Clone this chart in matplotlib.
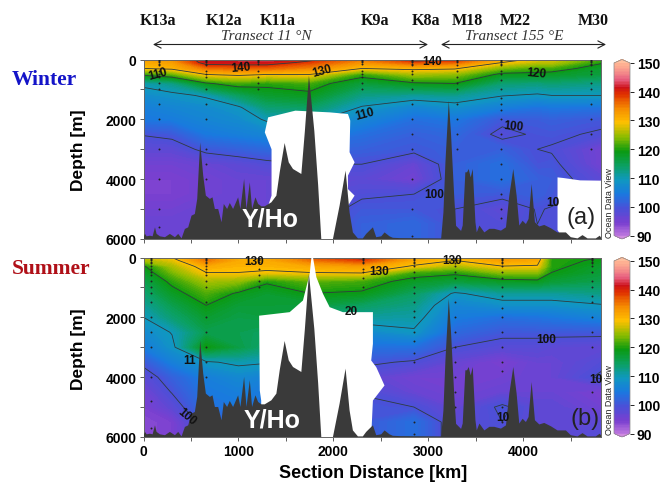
import numpy as np
import matplotlib
matplotlib.use("Agg")
import matplotlib.pyplot as plt
from matplotlib.colors import LinearSegmentedColormap
from matplotlib.patches import FancyArrowPatch

plt.rcParams["font.family"] = ["Liberation Sans", "DejaVu Sans"]

W, H = 662, 485

# grid of the section
km = [0, 300, 660, 1000, 1300, 1750, 2300, 2850, 3280, 3780, 4150, 4300, 4820]
depth = [0, 100, 300, 500, 800, 1200, 1600, 2000, 2500, 3000, 3500, 4000, 4500, 5000, 5500, 6000]

# winter values, one list per km column
w0 = [133, 132, 130, 121, 111, 108, 106, 105, 100.2, 98, 96, 95, 95, 96, 97, 97]
w1 = [134, 133, 131, 123, 113, 109, 107, 105.5, 101, 98, 96, 95, 95, 96, 97, 97]
w2 = [143, 142, 136, 130, 119.5, 110.5, 108, 107, 105, 101, 97, 96, 96, 97, 97, 97]
w3 = [143, 142, 137, 131, 122, 115, 109.5, 108, 106, 102, 98, 97, 97, 97, 97, 97]
w4 = [144, 142, 137, 130, 121, 118, 114, 110.5, 107, 103, 99, 97, 97, 97, 97, 97]
w5 = [141, 139, 135, 130, 122, 119, 115, 111, 107, 103, 100, 98, 98, 98, 98, 98]
w6 = [136, 134, 130, 121.5, 117, 113, 109.7, 107, 104, 102, 100, 98, 99.5, 101, 102, 102]
w7 = [142, 138, 131, 126, 119.5, 112, 107, 104, 102, 101, 97, 96, 100, 101, 103, 103]
w8 = [141, 137, 130.5, 125, 120, 112.5, 108.5, 105, 103, 102, 102, 102, 101.5, 100, 100, 100]
w9 = [132, 130, 124, 119, 114, 110.2, 106, 101, 99, 102, 104, 104, 101, 98, 99, 99]
w10 = [129, 127, 122, 119, 113.5, 109.5, 104.5, 101.5, 100.5, 100, 100.5, 102, 102, 100.2, 100, 100]
w11 = [129, 127, 122, 118.5, 114, 110, 105, 102, 100.7, 99.7, 100.8, 101.5, 101, 99.8, 100, 100]
w12 = [122, 120.5, 118, 117, 113, 110, 104.5, 101, 99.5, 96, 96, 98, 99, 100, 100, 100]

# summer values, one list per km column
s0 = [128, 126, 119.5, 118, 116, 114, 112, 110, 107.5, 105.5, 101, 98, 96, 95, 94, 94]
s1 = [130, 128.5, 126, 124, 121, 118.5, 116, 114, 110.2, 109, 106, 102, 100.2, 98, 95, 95]
s2 = [137, 136, 132, 130, 126, 122.5, 120, 118, 116, 120, 109.5, 106, 105, 104, 102, 100]
s3 = [131, 132, 131, 130, 125, 119.5, 117.5, 116.5, 116, 116.5, 110.8, 107.5, 106, 105, 103, 103]
s4 = [132, 132, 131, 129.5, 120.5, 118, 117.5, 117, 115, 114, 110.3, 106.5, 105, 104, 103, 103]
s5 = [138, 136, 132, 130, 123, 120, 117, 114, 112, 110, 107, 104, 103, 103, 103, 103]
s6 = [141, 139, 133, 130.5, 122, 119.5, 115, 112, 107.5, 104, 100.8, 98, 99.7, 101, 101, 101]
s7 = [133, 132, 129.5, 122, 118.5, 115, 113, 111.5, 109.5, 104, 99.5, 96, 97, 100, 104, 104]
s8 = [131, 130, 126, 121, 117, 109.5, 107, 105.5, 103, 100, 97, 96, 96, 97, 98, 98]
s9 = [134, 133, 129.8, 125, 118.5, 112, 108.5, 104, 101, 98.5, 95, 96, 97, 100.6, 100, 100]
s10 = [133, 132, 129.5, 125, 119, 112, 108.5, 104.5, 101, 98.5, 97, 97, 97, 98, 98, 98]
s11 = [121, 121, 121, 120, 117.5, 112, 108.5, 105, 101, 98, 97, 97, 97, 98, 98, 98]
s12 = [120, 119.5, 118, 117.5, 116, 113, 109.7, 106.5, 101, 97.5, 99, 100.6, 95, 96, 98, 99]

# sea floor
bathy_km = [0, 0, 16, 33, 68, 96, 121, 138, 173, 226, 278, 331, 366, 401, 436, 471, 506, 541, 566, 597, 629, 657,
            699, 727, 752, 787, 822, 846, 881, 909, 944, 997, 1021, 1060, 1085, 1120, 1144, 1179, 1208, 1242, 1277,
            1347, 1400, 1435, 1487, 1530, 1575, 1663, 1700, 1743, 1800, 1840, 1873, 1996, 2066, 2129, 2171, 2206,
            2259, 2311, 2346, 2381, 2417, 2452, 2505, 2540, 2592, 2627, 2697, 3136, 3160, 3181, 3216, 3240, 3275,
            3293, 3346, 3363, 3391, 3409, 3426, 3447, 3469, 3497, 3511, 3539, 3591, 3644, 3696, 3766, 3819, 3854,
            3896, 3931, 3959, 3994, 4029, 4057, 4089, 4124, 4170, 4222, 4292, 4362, 4450, 4502, 4573, 4625, 4678,
            4765, 4807, 4820, 4820]
bathy_d = [6000, 5940, 5830, 5910, 5890, 5910, 5610, 5830, 5910, 5940, 5830, 5940, 5830, 5980, 5665, 5610, 5220, 5164,
           4660, 2770, 3880, 4550,
           4660, 4607, 4997, 4997, 5442, 4830, 4997, 4796, 4997, 4607, 4997, 3994, 4997, 4105, 4997, 4607, 4830, 4908,
           4908, 4774, 4551, 3771, 2791, 3437, 3660, 3827, 2400, 540, 2400, 4200, 6000, 6000, 4885, 3715, 5110, 5780,
           5980, 5980, 5830, 5720, 5610, 5940, 5910, 5780, 5910, 5960, 5970, 5980, 5110, 3440, 1377, 2500, 4665,
           5560, 5730, 5550, 3770, 3770, 3660, 3940, 3660, 5440, 5780, 5550, 5780, 5660, 5660, 5720, 5610, 4550,
           3660, 4550, 5550, 5390, 5500, 5330, 4160, 5440, 5580, 5530, 5640, 5780, 5780, 5940, 5980, 5870, 5980,
           5980, 5890, 5950, 6000]

# no-data areas
winter_mask_km = [1313, 1313, 1349, 1349, 1278, 1313, 1600, 1961, 2154, 2178, 2171, 2224, 2154, 2154, 2224, 2154, 2171, 2171]
winter_mask_d = [6000, 4890, 4550, 3000, 2435, 1934, 1710, 1767, 1822, 2045, 3100, 3437, 3880, 4330, 4550, 4890, 5560, 6000]
winter_box_km = [4362, 4420, 4600, 4820, 4820, 4420, 4362]
winter_box_d = [3940, 3960, 4040, 4050, 6000, 6000, 5700]
summer_mask_km = [1240, 1240, 1225, 1218, 1540, 1680, 1751, 1769, 1786, 1821, 1891, 1961, 2101, 2417, 2417, 2399, 2452, 2539, 2417, 2399, 2399]
summer_mask_d = [6000, 4780, 4445, 1945, 1827, 1437, 546, 0, 0, 657, 1214, 1660, 1827, 1827, 2885, 3442, 3665, 4278, 4780, 5980, 6000]

# sampling stations
station_names = ["K13a", "K12a", "K11a", "K9a", "K8a", "M18", "M22", "M30"]
station_label_x = [158, 224, 278, 375, 426, 467, 515, 593]
winter_km = [166, 654, 1207, 2301, 2830, 3303, 3770, 4712]
summer_km = [76, 660, 1212, 2311, 2855, 3279, 3780, 4723]
winter_st_d = [
    [20, 60, 100, 150, 200, 400, 500, 600, 800, 1000, 1500, 2000, 3000, 4000, 5000, 5600],
    [20, 60, 100, 150, 200, 400, 500, 600, 1000, 1500, 2000, 3000, 3500, 4000],
    [20, 60, 100, 150, 400, 600, 800, 1000],
    [20, 60, 100, 150, 400, 500, 600, 800, 1000],
    [20, 60, 100, 150, 200, 400, 500, 700, 1000, 1500, 2000, 2500, 3000, 4000, 5000, 5900],
    [20, 60, 100, 200, 400, 600, 800, 1000, 1500, 2000, 2500, 3000],
    [20, 60, 100, 150, 200, 400, 500, 700, 1000, 1300, 1500, 1700, 2000, 2500, 3000, 3500, 4000, 4500, 5000, 5300],
    [20, 60, 100, 150, 200, 400, 500, 800, 1000, 1500, 2000, 2500, 3000],
]
summer_st_d = [
    [20, 60, 100, 150, 200, 300, 400, 500, 600, 800, 1000, 1200, 1500, 2000, 2500, 3000, 4000, 4800, 5700],
    [20, 60, 100, 150, 200, 300, 400, 500, 600, 800, 1000, 1500, 2000, 2500, 3000, 3500, 4000],
    [20, 60, 100, 150, 400, 600, 800, 1000],
    [20, 60, 100, 150, 200, 400, 500, 700, 1000],
    [20, 60, 100, 150, 200, 300, 500, 700, 1000, 1200, 1500, 1800, 2000, 2500, 2800, 3200, 3500, 5500, 5900],
    [20, 60, 100, 200, 300, 500, 700, 1000, 1500, 2000, 2500, 3000, 3500, 4000, 4500, 5000],
    [20, 60, 100, 150, 200, 300, 500, 700, 1000, 1300, 1700, 2000, 2500, 3000, 3500, 3800, 5000, 5500],
    [20, 60, 100, 150, 200, 300, 500, 800, 1000, 1300, 1500, 2000, 2500, 3000, 4500],
]

# colour scale
cb_pos = [0, 0.083, 0.167, 0.25, 0.333, 0.417, 0.5, 0.583, 0.667, 0.75, 0.833, 0.87, 0.917, 1]
cb_col = ["#c77fe0", "#7a3fd0", "#4a50d8", "#1a78e0", "#0f98c0", "#0ba060", "#0b9a10", "#8cbc00", "#ffc000",
          "#f58a00", "#e03000", "#cc1018", "#e86080", "#ffb493"]
odv = LinearSegmentedColormap.from_list("odv", list(zip(cb_pos, cb_col)), N=256)
odv.set_under("#d08ae0")
odv.set_over("#ffbf9e")

winter = np.column_stack([w0, w1, w2, w3, w4, w5, w6, w7, w8, w9, w10, w11, w12])
summer = np.column_stack([s0, s1, s2, s3, s4, s5, s6, s7, s8, s9, s10, s11, s12])
fill_levels = np.arange(90, 150.5, 0.5)

fig = plt.figure(figsize=(W / 100, H / 100), dpi=100)


def px_axes(x0, y0, x1, y1):
    return fig.add_axes([x0 / W, 1 - y1 / H, (x1 - x0) / W, (y1 - y0) / H])


def px_text(x, y, s, **kw):
    kw.setdefault("ha", "center")
    kw.setdefault("va", "center")
    return fig.text(x / W, 1 - y / H, s, **kw)


def section(ax, values, masks, st_km, st_d):
    cf = ax.contourf(km, depth, values, levels=fill_levels, cmap=odv, vmin=90, vmax=150, extend="both", zorder=1)
    ax.contour(km, depth, values, levels=[100, 110, 120, 130, 140], colors="#2f3b3f", linewidths=0.6, zorder=2)
    for mx, my in masks:
        ax.fill(mx, my, color="white", lw=0, zorder=3)
    for x, ds in zip(st_km, st_d):
        ax.plot([x] * len(ds), ds, ls="none", marker="o", ms=1.4, color="#222222", mew=0, zorder=4)
    ax.fill(bathy_km, bathy_d, color="#3a3a3a", lw=0, zorder=5)
    ax.set_xlim(0, 4820)
    ax.set_ylim(6000, 0)
    ax.set_xticks(np.arange(0, 5000, 500))
    ax.set_yticks(np.arange(0, 7000, 1000))
    ax.set_yticklabels(["0", "", "2000", "", "4000", "", "6000"], fontsize=10, fontweight="bold")
    ax.tick_params(length=3, width=0.6, color="#444444", pad=2)
    for sp in ax.spines.values():
        sp.set_linewidth(0.7)
        sp.set_color("#666666")
    return cf


def colour_bar(cf, y0, y1):
    cax = px_axes(614, y0, 630, y1)
    cb = fig.colorbar(cf, cax=cax, extend="both", extendfrac=0.02, ticks=[90, 100, 110, 120, 130, 140, 150])
    cb.ax.set_ylim(90, 150)
    cb.ax.tick_params(length=3, width=0.6, pad=2, labelsize=10)
    for t in cb.ax.get_yticklabels():
        t.set_fontweight("bold")
    cb.outline.set_linewidth(0.5)
    cb.outline.set_edgecolor("#888888")
    cb.solids.set_edgecolor("face")


ax1 = px_axes(143.5, 60.5, 601, 240)
cf1 = section(ax1, winter, [(winter_mask_km, winter_mask_d), (winter_box_km, winter_box_d)], winter_km, winter_st_d)
ax1.set_xticklabels([])
colour_bar(cf1, 60.5, 240)

ax2 = px_axes(143.5, 258.5, 601, 438)
cf2 = section(ax2, summer, [(summer_mask_km, summer_mask_d)], summer_km, summer_st_d)
ax2.set_xticklabels(["0", "", "1000", "", "2000", "", "3000", "", "4000", ""], fontsize=10, fontweight="bold")
colour_bar(cf2, 258.5, 438)

# station names and transect arrows
for x, name in zip(station_label_x, station_names):
    px_text(x, 21, name, family="Liberation Serif", fontsize=11.5, fontweight="bold", color="#111111")
px_text(266, 37, "Transect 11 °N", family="Liberation Serif", style="italic", fontsize=11, color="#333333")
px_text(514, 37, "Transect 155 °E", family="Liberation Serif", style="italic", fontsize=11, color="#333333")
for a, b in [(153, 428), (441, 606)]:
    fig.add_artist(FancyArrowPatch((a / W, 1 - 45.5 / H), (b / W, 1 - 45.5 / H), transform=fig.transFigure,
                                   arrowstyle="<->,head_length=5,head_width=2.6", lw=0.8, color="#222222",
                                   shrinkA=0, shrinkB=0))

# side titles and axis labels
px_text(44, 80, "Winter", family="Liberation Serif", fontsize=15.5, fontweight="bold", color="#1414c8")
px_text(51, 269, "Summer", family="Liberation Serif", fontsize=15.5, fontweight="bold", color="#b01018")
px_text(78, 150, "Depth [m]", rotation=90, fontsize=12.5, fontweight="bold")
px_text(78, 349, "Depth [m]", rotation=90, fontsize=12.5, fontweight="bold")
px_text(373, 474, "Section Distance [km]", fontsize=13, fontweight="bold")
px_text(609, 203, "Ocean Data View", rotation=90, fontsize=6.5, color="#222222")
px_text(609, 400, "Ocean Data View", rotation=90, fontsize=6.5, color="#222222")
px_text(270, 220, "Y/Ho", fontsize=18, fontweight="bold", color="white")
px_text(272, 421, "Y/Ho", fontsize=18, fontweight="bold", color="white")
px_text(581, 218, "(a)", fontsize=17, color="#222222")
px_text(585, 419, "(b)", fontsize=17, color="#222222")

# contour labels
contour_labels = [
    (158, 75, "110", 15), (241, 68, "140", 5), (322, 72, "130", 15), (365, 115, "110", 15), (432, 62, "140", 0),
    (536, 74, "120", -5), (513, 127, "100", -5), (434, 195, "100", 0), (553, 203, "10", 0),
    (254, 262, "130", 0), (379, 272, "130", 0), (452, 261, "130", 0), (190, 361, "11", 0), (187, 417, "100", -40),
    (351, 312, "20", 0), (546, 340, "100", 0), (596, 380, "10", 0), (503, 418, "10", 0),
]
for x, y, s, rot in contour_labels:
    px_text(x, y, s, fontsize=8.5, fontweight="bold", rotation=rot, color="#111111", zorder=6)

fig.savefig("out.png", dpi=100)
